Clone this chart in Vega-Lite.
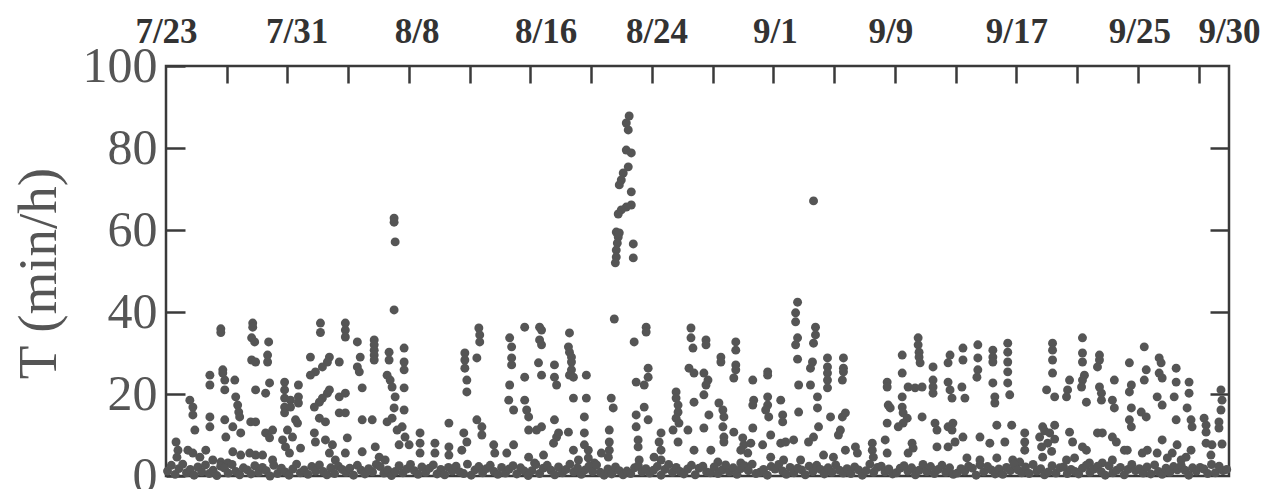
{
"$schema": "https://vega.github.io/schema/vega-lite/v6.json",
"width": 1063, "height": 410, "autosize": "none",
"padding": {"left": 166, "top": 66, "right": 48, "bottom": 13},
"background": "white",
"config": {"view": {"stroke": "#3a3a3a", "strokeWidth": 2.5}, "font": "Liberation Serif"},
"datasets": {"pts": [
{"day":3.61,"T":35.9},{"day":3.61,"T":35},{"day":5.71,"T":37.3},{"day":5.71,"T":36.3},{"day":5.64,"T":33.7},{"day":5.84,"T":32.7},{"day":6.76,"T":32.7},{"day":5.64,"T":28.3},{"day":5.9,"T":27.8},{"day":6.69,"T":29.5},{"day":6.69,"T":27.8},{"day":10.17,"T":37.3},{"day":10.17,"T":35},{"day":9.51,"T":29},{"day":10.76,"T":29},{"day":10.63,"T":27.8},{"day":10.3,"T":26.6},{"day":9.84,"T":25.4},{"day":9.51,"T":24.6},{"day":11.41,"T":27.8},{"day":3.74,"T":25.9},{"day":3.74,"T":25.1},{"day":2.89,"T":24.6},{"day":2.89,"T":22.2},{"day":3.87,"T":23.4},{"day":3.87,"T":21},{"day":4.53,"T":23.4},{"day":6.82,"T":22.7},{"day":6.56,"T":20.2},{"day":5.9,"T":21},{"day":7.81,"T":22.9},{"day":7.81,"T":21},{"day":7.81,"T":19},{"day":7.81,"T":16.8},{"day":7.81,"T":15.4},{"day":8.72,"T":22.2},{"day":8.72,"T":19.3},{"day":8.72,"T":17.8},{"day":8.2,"T":18.5},{"day":8.2,"T":16.8},{"day":10.76,"T":21},{"day":10.63,"T":20.2},{"day":10.3,"T":19},{"day":10.1,"T":18},{"day":9.77,"T":16.8},{"day":11.41,"T":19.3},{"day":11.41,"T":15.4},{"day":1.57,"T":18.5},{"day":1.77,"T":16.8},{"day":1.77,"T":14.9},{"day":4.59,"T":19.3},{"day":4.72,"T":17.3},{"day":4.79,"T":15.6},{"day":4.85,"T":14.4},{"day":2.89,"T":14.4},{"day":2.89,"T":12},{"day":1.9,"T":11.2},{"day":3.87,"T":13.7},{"day":4.4,"T":12},{"day":4.92,"T":10.5},{"day":3.94,"T":9.5},{"day":5.58,"T":13.2},{"day":5.9,"T":13.2},{"day":6.56,"T":10.5},{"day":6.82,"T":9.3},{"day":7.02,"T":11.2},{"day":8,"T":11.2},{"day":8.33,"T":9.5},{"day":8.66,"T":12.9},{"day":8.53,"T":13.7},{"day":7.68,"T":8.8},{"day":7.87,"T":7.1},{"day":8.13,"T":5.6},{"day":9.77,"T":10.5},{"day":9.84,"T":8.3},{"day":10.5,"T":8.8},{"day":10.96,"T":7.6},{"day":10.1,"T":14.1},{"day":10.5,"T":13.2},{"day":8.86,"T":6.8},{"day":0.66,"T":8.3},{"day":0.79,"T":6.3},{"day":0.72,"T":4.6},{"day":1.44,"T":6.3},{"day":1.77,"T":5.6},{"day":2.23,"T":4.6},{"day":2.62,"T":6.3},{"day":3.08,"T":3.9},{"day":3.61,"T":3.4},{"day":4.07,"T":3.2},{"day":4.4,"T":5.9},{"day":4.92,"T":5.1},{"day":5.51,"T":5.6},{"day":5.9,"T":5.1},{"day":6.36,"T":5.1},{"day":7.02,"T":3.9},{"day":10.76,"T":5.6},{"day":11.15,"T":3.9},{"day":15.02,"T":62.9},{"day":15.02,"T":61.9},{"day":15.09,"T":57.1},{"day":15.02,"T":40.5},
{"day":11.81,"T":37.3},{"day":11.81,"T":35.6},{"day":11.81,"T":33.9},{"day":12.6,"T":32.7},{"day":13.71,"T":33.2},{"day":13.71,"T":32},{"day":13.71,"T":30.7},{"day":13.71,"T":29.5},{"day":13.71,"T":28.3},{"day":12.79,"T":29},{"day":12.6,"T":26.6},{"day":12.73,"T":25.4},{"day":14.69,"T":30.2},{"day":14.69,"T":28.3},{"day":15.68,"T":31.2},{"day":15.68,"T":27.8},{"day":15.68,"T":25.9},{"day":14.56,"T":24.6},{"day":14.76,"T":23.4},{"day":14.89,"T":21.7},{"day":12.92,"T":21.5},{"day":15.68,"T":21.5},{"day":11.81,"T":20.2},{"day":15.09,"T":19.3},{"day":15.02,"T":16.6},{"day":15.68,"T":16.1},{"day":11.81,"T":15.4},{"day":12.92,"T":13.7},{"day":13.58,"T":13.7},{"day":14.56,"T":13.2},{"day":14.89,"T":14.1},{"day":15.55,"T":12},{"day":15.22,"T":11.2},{"day":15.74,"T":9.5},{"day":16.01,"T":7.6},{"day":15.35,"T":7.6},{"day":11.94,"T":9.3},{"day":11.81,"T":5.6},{"day":12.92,"T":5.9},{"day":13.78,"T":7.1},{"day":14.04,"T":4.6},{"day":14.43,"T":3.9},{"day":16.73,"T":10.5},{"day":16.73,"T":8},{"day":16.73,"T":5.6},{"day":17.71,"T":8},{"day":17.71,"T":5.6},{"day":18.63,"T":12.9},{"day":18.63,"T":7.1},{"day":18.63,"T":5.1},{"day":19.68,"T":30},{"day":19.68,"T":28.3},{"day":19.68,"T":26.3},{"day":19.81,"T":23.4},{"day":19.81,"T":20.5},{"day":20.6,"T":36.1},{"day":20.66,"T":34.4},{"day":20.66,"T":32.7},{"day":20.47,"T":28.8},{"day":19.61,"T":10.5},{"day":19.81,"T":8.3},{"day":19.48,"T":6.3},{"day":20.47,"T":13.7},{"day":20.8,"T":12},{"day":20.8,"T":10},{"day":21.58,"T":7.6},{"day":21.65,"T":5.6},{"day":22.63,"T":33.7},{"day":22.76,"T":31.5},{"day":22.76,"T":28.8},{"day":22.76,"T":27.1},{"day":22.63,"T":22.2},{"day":22.57,"T":18.5},{"day":22.89,"T":16.1},{"day":22.44,"T":5.6},{"day":22.89,"T":7.6},
{"day":29.52,"T":38.3},{"day":23.62,"T":36.3},{"day":24.6,"T":36.3},{"day":24.73,"T":35.6},{"day":24.6,"T":33.2},{"day":24.73,"T":32},{"day":26.57,"T":34.9},{"day":26.5,"T":31.5},{"day":26.57,"T":30.2},{"day":26.7,"T":29},{"day":26.7,"T":27.8},{"day":26.7,"T":25.9},{"day":26.57,"T":24.6},{"day":26.83,"T":24.1},{"day":27.68,"T":24.6},{"day":24.53,"T":27.6},{"day":24.73,"T":24.6},{"day":25.58,"T":27.1},{"day":25.58,"T":24.1},{"day":25.72,"T":22.2},{"day":23.62,"T":24.1},{"day":31.62,"T":36.3},{"day":31.62,"T":35.1},{"day":30.83,"T":32.7},{"day":31.75,"T":26.3},{"day":31.75,"T":24.1},{"day":31.49,"T":22.2},{"day":30.96,"T":22.9},{"day":34.57,"T":36.1},{"day":34.57,"T":33.7},{"day":34.7,"T":31.2},{"day":34.44,"T":26.3},{"day":34.77,"T":25.1},{"day":26.83,"T":19},{"day":27.68,"T":19},{"day":29.32,"T":19},{"day":29.45,"T":16.6},{"day":23.62,"T":18.5},{"day":23.75,"T":16.1},{"day":23.88,"T":14.4},{"day":27.55,"T":14.4},{"day":25.58,"T":13.7},{"day":33.59,"T":20.5},{"day":33.59,"T":19},{"day":33.72,"T":17.3},{"day":33.72,"T":15.6},{"day":33.59,"T":14.1},{"day":33.78,"T":12.9},{"day":33.39,"T":11.2},{"day":34.37,"T":11.2},{"day":33.72,"T":8.3},{"day":34.77,"T":18},{"day":34.77,"T":6.3},{"day":30.96,"T":14.9},{"day":31.75,"T":13.7},{"day":30.96,"T":12},{"day":31.09,"T":8.8},{"day":31.09,"T":7.1},{"day":31.49,"T":16.8},{"day":32.6,"T":10.5},{"day":32.47,"T":8.3},{"day":32.6,"T":6.3},{"day":24.73,"T":12},{"day":24.4,"T":11.2},{"day":23.88,"T":11.2},{"day":25.72,"T":9.5},{"day":25.85,"T":10.5},{"day":26.5,"T":10.7},{"day":25.52,"T":8},{"day":27.55,"T":10.5},{"day":27.55,"T":7.6},{"day":27.81,"T":6.3},{"day":26.83,"T":6.3},{"day":29.19,"T":11.2},{"day":29.19,"T":8.3},{"day":29.19,"T":6.3},{"day":28.67,"T":5.6},{"day":29.13,"T":4.6},{"day":24.86,"T":5.1},{"day":23.88,"T":4.6},{"day":24.27,"T":3.2},{"day":31.16,"T":3.9},{"day":32.14,"T":4.6},{"day":32.6,"T":3.9},{"day":27.16,"T":3.9},{"day":27.81,"T":4.4},{"day":28.21,"T":3.2},
{"day":30.5,"T":87.8},{"day":30.31,"T":86.1},{"day":30.44,"T":84.4},{"day":30.31,"T":79.5},{"day":30.64,"T":78.8},{"day":30.44,"T":75.4},{"day":30.11,"T":73.9},{"day":29.98,"T":72.2},{"day":29.85,"T":71},{"day":30.64,"T":69.3},{"day":30.64,"T":66.1},{"day":30.31,"T":65.6},{"day":29.98,"T":64.9},{"day":29.78,"T":63.9},{"day":29.65,"T":59.5},{"day":29.78,"T":58.3},{"day":29.85,"T":59.3},{"day":29.72,"T":56.8},{"day":29.65,"T":55.1},{"day":29.65,"T":53.4},{"day":29.59,"T":52},{"day":30.77,"T":56.6},{"day":30.77,"T":53.2},{"day":42.64,"T":67.1},
{"day":41.59,"T":42.4},{"day":41.46,"T":39.8},{"day":41.46,"T":37.6},{"day":42.77,"T":36.3},{"day":42.77,"T":34.4},{"day":42.64,"T":32.4},{"day":41.59,"T":33.7},{"day":41.46,"T":32},{"day":35.56,"T":33.2},{"day":35.56,"T":32},{"day":37.52,"T":32.7},{"day":37.52,"T":30.7},{"day":36.54,"T":29},{"day":36.54,"T":27.8},{"day":37.52,"T":27.1},{"day":37.52,"T":25.9},{"day":37.39,"T":23.9},{"day":35.42,"T":25.1},{"day":35.69,"T":23.4},{"day":35.56,"T":22.2},{"day":38.64,"T":23.4},{"day":39.62,"T":25.4},{"day":39.62,"T":24.6},{"day":41.59,"T":28.5},{"day":42.57,"T":27.8},{"day":42.44,"T":26.3},{"day":43.56,"T":28.8},{"day":43.56,"T":26.6},{"day":43.56,"T":25.1},{"day":43.56,"T":23.4},{"day":43.56,"T":21.5},{"day":44.61,"T":28.8},{"day":44.61,"T":26.3},{"day":44.61,"T":25.4},{"day":44.54,"T":23.4},{"day":41.66,"T":22.2},{"day":42.44,"T":22.2},{"day":35.42,"T":19.8},{"day":36.41,"T":17.8},{"day":36.67,"T":16.1},{"day":36.74,"T":14.4},{"day":38.7,"T":18.5},{"day":38.64,"T":17.3},{"day":39.62,"T":19.3},{"day":39.62,"T":17.3},{"day":39.49,"T":16.1},{"day":39.69,"T":14.4},{"day":40.61,"T":14.9},{"day":40.61,"T":13.2},{"day":40.48,"T":18.5},{"day":41.66,"T":15.6},{"day":42.9,"T":19.3},{"day":42.9,"T":16.6},{"day":43.76,"T":14.4},{"day":44.54,"T":14.4},{"day":44.74,"T":15.4},{"day":35.75,"T":14.9},{"day":35.42,"T":11.7},{"day":36.67,"T":12},{"day":36.74,"T":9.5},{"day":36.74,"T":8.3},{"day":37.39,"T":10.7},{"day":37.98,"T":9.3},{"day":38.05,"T":7.6},{"day":38.31,"T":5.6},{"day":37.85,"T":6.3},{"day":38.51,"T":8},{"day":38.64,"T":11.7},{"day":39.82,"T":10},{"day":39.29,"T":7.6},{"day":40.48,"T":8},{"day":40.8,"T":8.3},{"day":41.33,"T":8.8},{"day":42.97,"T":12},{"day":42.64,"T":9.5},{"day":42.31,"T":8.3},{"day":44.41,"T":11.2},{"day":44.28,"T":10},{"day":44.74,"T":6.3},{"day":45.4,"T":7.1},{"day":45.53,"T":5.6},{"day":46.51,"T":8},{"day":46.51,"T":6.3},{"day":46.58,"T":4.6},{"day":35.88,"T":6.3},{"day":39.82,"T":4.6},{"day":40.67,"T":3.9},{"day":41.79,"T":3.9},{"day":43.3,"T":5.1},{"day":43.95,"T":4.6},{"day":36.34,"T":3.4},{"day":37.85,"T":3.2},
{"day":49.53,"T":33.7},{"day":49.53,"T":32},{"day":49.59,"T":30.2},{"day":49.59,"T":29},{"day":49.66,"T":27.6},{"day":48.48,"T":29.5},{"day":50.51,"T":26.6},{"day":51.63,"T":29.5},{"day":51.5,"T":27.6},{"day":52.48,"T":31.2},{"day":52.48,"T":28.3},{"day":53.46,"T":32},{"day":53.46,"T":28.8},{"day":53.46,"T":25.9},{"day":53.4,"T":24.1},{"day":54.45,"T":30.7},{"day":54.45,"T":29},{"day":54.45,"T":27.8},{"day":55.43,"T":32.4},{"day":55.43,"T":30.2},{"day":55.43,"T":27.8},{"day":55.43,"T":25.4},{"day":55.43,"T":22.7},{"day":58.38,"T":32.4},{"day":58.38,"T":30.7},{"day":58.38,"T":28.3},{"day":58.38,"T":25.1},{"day":57.99,"T":21},{"day":58.52,"T":19.3},{"day":47.49,"T":22.9},{"day":47.49,"T":21.7},{"day":48.48,"T":25.1},{"day":48.87,"T":21.7},{"day":49.33,"T":21.5},{"day":49.79,"T":21.7},{"day":50.51,"T":23.4},{"day":50.51,"T":21.7},{"day":50.51,"T":20.2},{"day":51.5,"T":22.9},{"day":51.63,"T":21},{"day":51.76,"T":19},{"day":52.41,"T":21.7},{"day":52.61,"T":19},{"day":54.45,"T":22.7},{"day":54.58,"T":19.3},{"day":54.58,"T":17.8},{"day":55.56,"T":19.8},{"day":48.48,"T":19.3},{"day":48.48,"T":16.8},{"day":47.56,"T":17.3},{"day":47.69,"T":16.6},{"day":48.54,"T":15.4},{"day":48.81,"T":14.1},{"day":48.54,"T":12.9},{"day":48.22,"T":12},{"day":47.49,"T":12.9},{"day":49.79,"T":14.4},{"day":50.64,"T":12.9},{"day":50.77,"T":11.2},{"day":51.5,"T":12},{"day":51.82,"T":12.9},{"day":51.76,"T":11.2},{"day":54.71,"T":12.4},{"day":55.69,"T":12.4},{"day":47.36,"T":8.8},{"day":47.49,"T":5.6},{"day":49.13,"T":8},{"day":49.2,"T":6.8},{"day":48.87,"T":5.6},{"day":50.77,"T":7.1},{"day":51.5,"T":7.1},{"day":51.96,"T":8.3},{"day":52.48,"T":9.5},{"day":53.6,"T":9.5},{"day":54.25,"T":8},{"day":55.24,"T":8.3},{"day":56.55,"T":10.5},{"day":56.55,"T":8.3},{"day":56.55,"T":6.3},{"day":54.71,"T":4.4},{"day":55.76,"T":3.9},{"day":56.22,"T":3.4},{"day":57.53,"T":9.5},{"day":57.66,"T":7.1},{"day":57.73,"T":12},{"day":57.73,"T":4.6},{"day":57.86,"T":11},{"day":58.06,"T":8},{"day":58.19,"T":10.5},{"day":58.32,"T":6},{"day":58.52,"T":12.4},{"day":58.52,"T":9},{"day":52.74,"T":4.4},{"day":53.6,"T":3.9},
{"day":60.35,"T":33.7},{"day":60.35,"T":30},{"day":60.35,"T":27.8},{"day":60.48,"T":24.6},{"day":60.35,"T":23.4},{"day":60.29,"T":21.7},{"day":61.47,"T":29.5},{"day":61.47,"T":28.3},{"day":61.34,"T":26.6},{"day":59.5,"T":23.4},{"day":59.37,"T":21},{"day":59.3,"T":19.3},{"day":60.61,"T":18},{"day":61.47,"T":21.7},{"day":61.6,"T":20.2},{"day":61.6,"T":18.5},{"day":62.45,"T":23.4},{"day":62.32,"T":18.5},{"day":62.45,"T":16.6},{"day":63.44,"T":27.6},{"day":63.57,"T":22.2},{"day":63.44,"T":20.5},{"day":64.42,"T":31.5},{"day":64.55,"T":25.9},{"day":64.42,"T":23.4},{"day":65.4,"T":28.8},{"day":65.53,"T":27.6},{"day":65.4,"T":25.1},{"day":65.6,"T":23.9},{"day":66.52,"T":26.3},{"day":66.52,"T":22.9},{"day":66.39,"T":19.3},{"day":65.27,"T":19.3},{"day":65.6,"T":17.3},{"day":67.37,"T":22.9},{"day":67.37,"T":20.2},{"day":67.24,"T":16.6},{"day":67.5,"T":13.7},{"day":67.57,"T":12},{"day":63.57,"T":16.6},{"day":64.22,"T":15.6},{"day":64.55,"T":14.4},{"day":63.44,"T":13.7},{"day":63.57,"T":12},{"day":66.52,"T":13.7},{"day":68.36,"T":14.1},{"day":68.49,"T":12.4},{"day":68.49,"T":10.7},{"day":69.47,"T":21},{"day":69.54,"T":18.5},{"day":69.47,"T":16.1},{"day":69.34,"T":13.2},{"day":69.34,"T":11.7},{"day":59.5,"T":10.7},{"day":59.7,"T":8.3},{"day":60.35,"T":7.1},{"day":60.61,"T":6.3},{"day":61.34,"T":10.5},{"day":61.66,"T":10.5},{"day":62.32,"T":9.5},{"day":62.58,"T":8.3},{"day":63.11,"T":6.3},{"day":63.3,"T":6.3},{"day":65.6,"T":8.8},{"day":66.58,"T":7.6},{"day":66.26,"T":5.6},{"day":65.94,"T":4.4},{"day":64.62,"T":6.3},{"day":64.29,"T":5.6},{"day":65.27,"T":5.6},{"day":67.5,"T":6.3},{"day":67.17,"T":4.6},{"day":66.85,"T":3.9},{"day":68.49,"T":8},{"day":68.88,"T":7.6},{"day":69.54,"T":7.8},{"day":68.81,"T":5.1},{"day":59.3,"T":3.9},{"day":59.83,"T":4.4},{"day":60.81,"T":3.2},{"day":61.66,"T":3.2},{"day":62.32,"T":3.9},
{"day":0.1,"T":1.2},{"day":0.35,"T":2.6},{"day":0.6,"T":0.4},{"day":0.85,"T":1.8},{"day":1.1,"T":2.9},{"day":1.35,"T":0.8},{"day":1.6,"T":1.6},{"day":1.85,"T":0.2},{"day":2.1,"T":2.2},{"day":2.35,"T":1},{"day":2.6,"T":2.7},{"day":2.85,"T":0.6},{"day":3.1,"T":1.4},{"day":3.35,"T":0.1},{"day":3.6,"T":2.4},{"day":3.85,"T":1.9},{"day":4.1,"T":0.7},{"day":4.35,"T":2.8},{"day":4.6,"T":1.1},{"day":4.85,"T":0.3},{"day":5.1,"T":2},{"day":5.35,"T":1.5},{"day":5.6,"T":0.5},{"day":5.85,"T":2.5},{"day":6.1,"T":0.9},{"day":6.35,"T":2.1},{"day":6.6,"T":1.3},{"day":6.85,"T":0},{"day":7.1,"T":2.6},{"day":7.35,"T":0.6},{"day":7.6,"T":1.9},{"day":7.85,"T":1},{"day":8.1,"T":0.2},{"day":8.35,"T":1.7},{"day":8.6,"T":2.9},{"day":8.85,"T":0.8},{"day":9.1,"T":1.5},{"day":9.35,"T":0.4},{"day":9.6,"T":2.3},{"day":9.85,"T":1.2},{"day":10.1,"T":2.7},{"day":10.35,"T":1.1},{"day":10.6,"T":0.3},{"day":10.85,"T":2},{"day":11.1,"T":0.6},{"day":11.35,"T":2.4},{"day":11.6,"T":1.6},{"day":11.85,"T":0.9},{"day":12.1,"T":1.9},{"day":12.35,"T":0.2},{"day":12.6,"T":2.6},{"day":12.85,"T":1.4},{"day":13.1,"T":0.5},{"day":13.35,"T":1.8},{"day":13.6,"T":1},{"day":13.85,"T":2.8},{"day":14.1,"T":2.3},{"day":14.35,"T":0.7},{"day":14.6,"T":1.5},{"day":14.85,"T":0.1},{"day":15.1,"T":1.1},{"day":15.35,"T":2.5},{"day":15.6,"T":0.8},{"day":15.85,"T":1.7},{"day":16.1,"T":2.8},{"day":16.35,"T":1.3},{"day":16.6,"T":0.4},{"day":16.85,"T":2.2},{"day":17.1,"T":0.9},{"day":17.35,"T":1.9},{"day":17.6,"T":2.7},{"day":17.85,"T":0.5},{"day":18.1,"T":1.6},{"day":18.35,"T":0.3},{"day":18.6,"T":2.1},{"day":18.85,"T":1.2},{"day":19.1,"T":2.4},{"day":19.35,"T":1},{"day":19.6,"T":0.6},{"day":19.85,"T":2.9},{"day":20.1,"T":0.2},{"day":20.35,"T":1.5},{"day":20.6,"T":2.3},{"day":20.85,"T":0.8},{"day":21.1,"T":1.8},{"day":21.35,"T":2.6},{"day":21.6,"T":1.1},{"day":21.85,"T":0.4},{"day":22.1,"T":2.1},{"day":22.35,"T":0.7},{"day":22.6,"T":1.7},{"day":22.85,"T":2.5},{"day":23.1,"T":0.5},{"day":23.35,"T":2},{"day":23.6,"T":1.2},{"day":23.85,"T":0.1},{"day":24.1,"T":1.3},{"day":24.35,"T":2.8},{"day":24.6,"T":0.6},{"day":24.85,"T":1.9},{"day":25.1,"T":2.6},{"day":25.35,"T":1.4},{"day":25.6,"T":0.3},{"day":25.85,"T":2.2},{"day":26.1,"T":0.8},{"day":26.35,"T":1.6},{"day":26.6,"T":2.9},{"day":26.85,"T":1},{"day":27.1,"T":2},{"day":27.35,"T":0.4},{"day":27.6,"T":1.5},{"day":27.85,"T":2.4},{"day":28.1,"T":1.1},{"day":28.35,"T":2.7},{"day":28.6,"T":0.9},{"day":28.85,"T":0.2},{"day":29.1,"T":1.7},{"day":29.35,"T":0.5},{"day":29.6,"T":2.2},{"day":29.85,"T":1.3},{"day":30.1,"T":0.3},{"day":30.35,"T":1.2},{"day":30.6,"T":0.6},{"day":30.85,"T":2},{"day":31.1,"T":2.5},{"day":31.35,"T":1},{"day":31.6,"T":1.8},{"day":31.85,"T":0.7},{"day":32.1,"T":1.4},{"day":32.35,"T":2.3},{"day":32.6,"T":0.2},{"day":32.85,"T":1.6},{"day":33.1,"T":2.8},{"day":33.35,"T":0.9},{"day":33.6,"T":2.1},{"day":33.85,"T":1.1},{"day":34.1,"T":0.5},{"day":34.35,"T":1.7},{"day":34.6,"T":2.6},{"day":34.85,"T":0.3},{"day":35.1,"T":1.9},{"day":35.35,"T":2.4},{"day":35.6,"T":1},{"day":35.85,"T":0.8},{"day":36.1,"T":2.2},{"day":36.35,"T":0.6},{"day":36.6,"T":1.4},{"day":36.85,"T":2.7},{"day":37.1,"T":1},{"day":37.35,"T":2},{"day":37.6,"T":0.4},{"day":37.85,"T":1.8},{"day":38.1,"T":2.5},{"day":38.35,"T":1.3},{"day":38.6,"T":2.9},{"day":38.85,"T":0.6},{"day":39.1,"T":0.9},{"day":39.35,"T":1.6},{"day":39.6,"T":0.2},{"day":39.85,"T":2.3},{"day":40.1,"T":1.7},{"day":40.35,"T":2.8},{"day":40.6,"T":1.2},{"day":40.85,"T":0.4},{"day":41.1,"T":2.1},{"day":41.35,"T":0.8},{"day":41.6,"T":1.9},{"day":41.85,"T":1.5},{"day":42.1,"T":0.3},{"day":42.35,"T":2.4},{"day":42.6,"T":1.1},{"day":42.85,"T":2.6},{"day":43.1,"T":1.6},{"day":43.35,"T":0.5},{"day":43.6,"T":2},{"day":43.85,"T":0.9},{"day":44.1,"T":2.7},{"day":44.35,"T":1.4},{"day":44.6,"T":0.7},{"day":44.85,"T":1.8},{"day":45.1,"T":0.6},{"day":45.35,"T":2.2},{"day":45.6,"T":1.5},{"day":45.85,"T":0.2},{"day":46.1,"T":1.3},{"day":46.35,"T":2.9},{"day":46.6,"T":0.9},{"day":46.85,"T":2.1},{"day":47.1,"T":2.4},{"day":47.35,"T":1},{"day":47.6,"T":1.7},{"day":47.85,"T":0.5},{"day":48.1,"T":0.8},{"day":48.35,"T":1.9},{"day":48.6,"T":2.5},{"day":48.85,"T":1.2},{"day":49.1,"T":2},{"day":49.35,"T":0.3},{"day":49.6,"T":1.4},{"day":49.85,"T":2.8},{"day":50.1,"T":1.1},{"day":50.35,"T":2.3},{"day":50.6,"T":0.6},{"day":50.85,"T":1.6},{"day":51.1,"T":2.6},{"day":51.35,"T":0.9},{"day":51.6,"T":2},{"day":51.85,"T":0.4},{"day":52.1,"T":0.7},{"day":52.35,"T":1.8},{"day":52.6,"T":1.2},{"day":52.85,"T":2.4},{"day":53.1,"T":1.9},{"day":53.35,"T":0.2},{"day":53.6,"T":2.7},{"day":53.85,"T":1},{"day":54.1,"T":2.3},{"day":54.35,"T":1.5},{"day":54.6,"T":0.5},{"day":54.85,"T":1.7},{"day":55.1,"T":0.4},{"day":55.35,"T":2.1},{"day":55.6,"T":1.3},{"day":55.85,"T":2.9},{"day":56.1,"T":1.5},{"day":56.35,"T":0.8},{"day":56.6,"T":2.2},{"day":56.85,"T":0.6},{"day":57.1,"T":2.8},{"day":57.35,"T":1.2},{"day":57.6,"T":1.8},{"day":57.85,"T":0.3},{"day":58.1,"T":1},{"day":58.35,"T":2.5},{"day":58.6,"T":0.7},{"day":58.85,"T":2},{"day":59.1,"T":2.2},{"day":59.35,"T":0.6},{"day":59.6,"T":1.6},{"day":59.85,"T":1.1},{"day":60.1,"T":0.5},{"day":60.35,"T":1.9},{"day":60.6,"T":2.6},{"day":60.85,"T":0.9},{"day":61.1,"T":1.7},{"day":61.35,"T":2.4},{"day":61.6,"T":1},{"day":61.85,"T":0.2},{"day":62.1,"T":2.5},{"day":62.35,"T":0.8},{"day":62.6,"T":1.4},{"day":62.85,"T":2.1},{"day":63.1,"T":0.3},{"day":63.35,"T":1.6},{"day":63.6,"T":2.8},{"day":63.85,"T":1.3},{"day":64.1,"T":1.8},{"day":64.35,"T":0.7},{"day":64.6,"T":2.2},{"day":64.85,"T":0.5},{"day":65.1,"T":2.7},{"day":65.35,"T":1.1},{"day":65.6,"T":0.4},{"day":65.85,"T":1.9},{"day":66.1,"T":0.9},{"day":66.35,"T":2.3},{"day":66.6,"T":1.5},{"day":66.85,"T":2.6},{"day":67.1,"T":1.4},{"day":67.35,"T":0.2},{"day":67.6,"T":2},{"day":67.85,"T":1.2},{"day":68.1,"T":2.1},{"day":68.35,"T":1.7},{"day":68.6,"T":0.6},{"day":68.85,"T":2.8},{"day":69.1,"T":0.8},{"day":69.35,"T":2.4},{"day":69.6,"T":1.3},{"day":69.85,"T":1.6}
]},
"layer": [
{
"data": {"name": "pts"},
"mark": {"type": "circle", "size": 80, "color": "#555555", "opacity": 1},
"encoding": {
"x": {"field": "day", "type": "quantitative",
"scale": {"domain": [0, 70], "nice": false, "zero": false},
"axis": {"orient": "top", "values": [4,8,12,16,20,24,28,32,36,40,44,48,52,56,60,64,68],
"labels": false, "domain": false, "grid": false, "title": null,
"tickSize": -17, "tickWidth": 2.5, "tickColor": "#3a3a3a"}},
"y": {"field": "T", "type": "quantitative",
"scale": {"domain": [0, 100], "nice": false, "zero": false},
"axis": {"orient": "left", "values": [0,20,40,60,80,100],
"domain": false, "grid": false,
"tickSize": -19, "tickWidth": 2.5, "tickColor": "#3a3a3a",
"labelFont": "Liberation Serif", "labelFontSize": 50, "labelColor": "#555555", "labelPadding": 28,
"labelFlush": false, "labelOverlap": false, "labelBound": false,
"title": "T (min/h)", "titleFont": "Liberation Serif", "titleFontSize": 55, "titleFontWeight": "normal", "titleColor": "#555555",
"titleAngle": 270, "titleAlign": "center", "titleBaseline": "middle", "titleX": -128, "titleY": 207}}
}
},
{
"mark": {"type": "rule", "strokeDash": [8, 5], "color": "#3a3a3a", "strokeWidth": 2},
"encoding": {
"y": {"datum": 60, "type": "quantitative", "scale": {"domain": [0, 100], "nice": false, "zero": false},
"axis": {"orient": "right", "values": [20,40,60,80], "labels": false, "domain": false, "grid": false, "title": null,
"tickSize": -19, "tickWidth": 2.5, "tickColor": "#3a3a3a"}}
}
},
{
"mark": {"type": "point", "opacity": 0},
"encoding": {
"x": {"datum": 35, "type": "quantitative", "scale": {"domain": [0, 70], "nice": false, "zero": false},
"axis": {"orient": "top", "values": [0, 8.6, 16.5, 25, 32.3, 40.1, 47.7, 56, 64.1, 70],
"labelExpr": "datum.value == 0 ? '7/23' : datum.value == 8.6 ? '7/31' : datum.value == 16.5 ? '8/8' : datum.value == 25 ? '8/16' : datum.value == 32.3 ? '8/24' : datum.value == 40.1 ? '9/1' : datum.value == 47.7 ? '9/9' : datum.value == 56 ? '9/17' : datum.value == 64.1 ? '9/25' : '9/30'",
"ticks": false, "domain": false, "grid": false, "title": null,
"labelFont": "Liberation Serif", "labelFontSize": 35, "labelFontWeight": "bold", "labelColor": "#333333",
"labelBaseline": "alphabetic", "labelPadding": 24, "labelFlush": false, "labelOverlap": false, "labelBound": false}}
}
}
],
"resolve": {"axis": {"x": "independent", "y": "independent"}}
}
